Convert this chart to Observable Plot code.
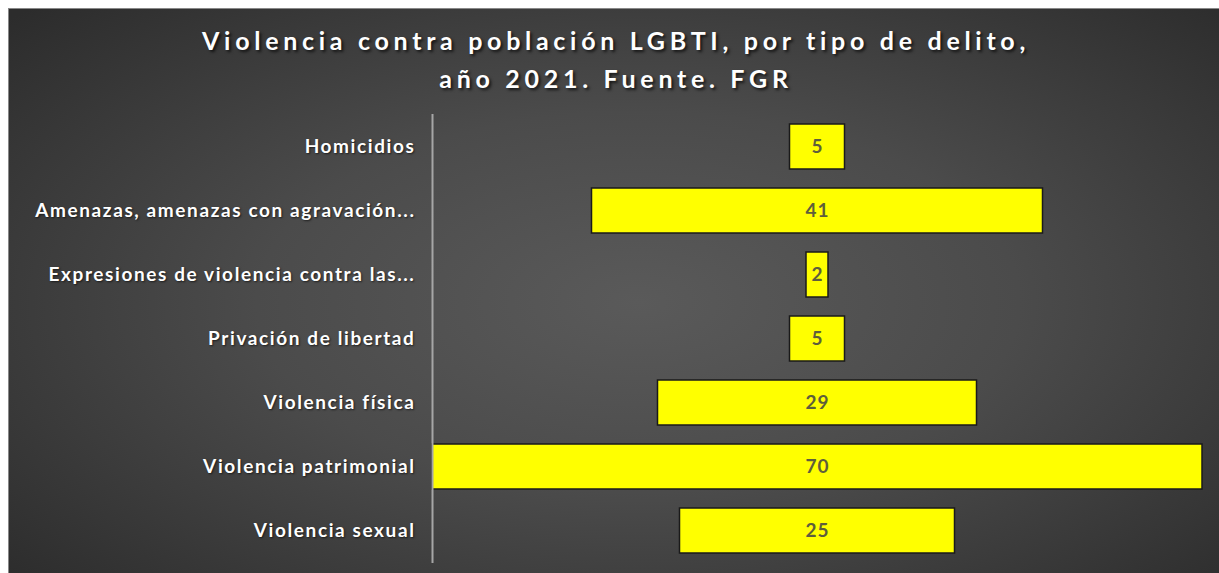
<!DOCTYPE html>
<html>
<head>
<meta charset="utf-8">
<script src="https://cdn.jsdelivr.net/npm/d3@7"></script>
<script src="https://cdn.jsdelivr.net/npm/@observablehq/plot@0.6"></script>
<style>
  html, body { margin: 0; padding: 0; background: #ffffff; }
  #frame {
    position: absolute; left: 8px; top: 8px; width: 1211px; height: 565px;
    background: radial-gradient(ellipse 70% 75% at 52% 52%, #5a5a5a 0%, #4b4b4b 45%, #2c2c2c 100%);
    overflow: hidden;
    border-left: 1px solid #888; border-top: 1px solid #888;
    box-sizing: border-box;
  }
  #title {
    height: 100px; box-sizing: border-box; padding-top: 12px; padding-left: 4px;
    text-align: center; color: #ffffff;
    font-family: Lato, "Open Sans", sans-serif; font-weight: bold;
    font-size: 25px; line-height: 38px; letter-spacing: 4.7px;
    text-shadow: 2px 2px 3px rgba(0,0,0,0.7);
  }
  #chart svg text { text-shadow: 1px 1px 2px rgba(0,0,0,0.6); letter-spacing: 1.6px; }
  #chart svg g[aria-label="text"] text { text-shadow: none; letter-spacing: 1px; }
</style>
</head>
<body>
<div id="frame">
  <div id="title">Violencia contra población LGBTI, por tipo de delito,<br>año 2021. Fuente. FGR</div>
  <div id="chart"></div>
</div>
<script>
const categories = [
  "Homicidios",
  "Amenazas, amenazas con agravación...",
  "Expresiones de violencia contra las...",
  "Privación de libertad",
  "Violencia física",
  "Violencia patrimonial",
  "Violencia sexual"
];
const values = [5, 41, 2, 5, 29, 70, 25];

const data = categories.map((c, i) => ({c, v: values[i]}));

const chart = Plot.plot({
  width: 1210,
  height: 464,
  marginLeft: 423,
  marginRight: 17,
  marginTop: 5,
  marginBottom: 10,
  x: {domain: [-35, 35], axis: null},
  y: {domain: categories, paddingInner: 0.3, paddingOuter: 0.15, label: null, tickSize: 0, tickPadding: 17},
  style: {
    background: "transparent",
    color: "#ffffff",
    fontFamily: "Lato, 'Open Sans', sans-serif",
    fontSize: "19px",
    fontWeight: "bold"
  },
  marks: [
    Plot.barX(data, {
      x1: d => -d.v / 2,
      x2: d => d.v / 2,
      y: "c",
      fill: "#ffff00",
      stroke: "#1a1a1a",
      strokeWidth: 1.5
    }),
    Plot.ruleX([-35], {stroke: "#a6a6a6", strokeWidth: 2}),
    Plot.text(data, {
      x: 0,
      y: "c",
      text: d => String(d.v),
      fill: "#5e5e3c",
      fontSize: 19,
      fontWeight: "bold"
    })
  ]
});
document.getElementById("chart").appendChild(chart);
</script>
</body>
</html>
